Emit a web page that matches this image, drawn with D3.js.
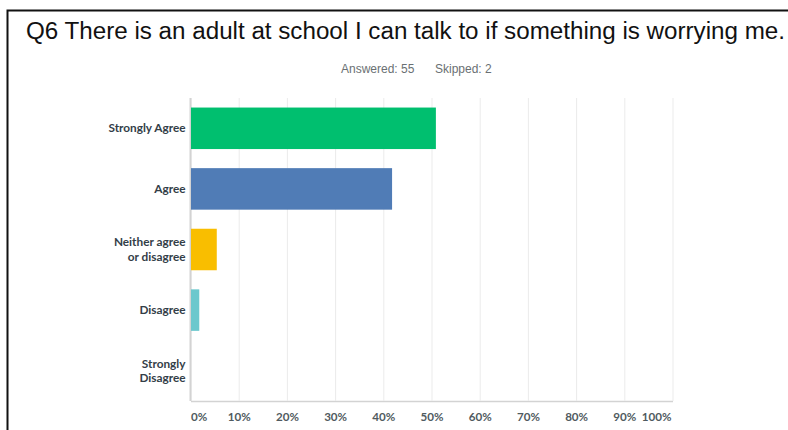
<!DOCTYPE html>
<html>
<head>
<meta charset="utf-8">
<script src="https://cdn.jsdelivr.net/npm/d3@7"></script>
<style>
  html, body { margin: 0; padding: 0; background: #fff; }
  svg { display: block; }
</style>
</head>
<body>
<svg id="chart" width="788" height="430"></svg>
<script>
// Survey question and response summary
const title = "Q6 There is an adult at school I can talk to if something is worrying me.";
const answered = 55;
const skipped = 2;

// Response options and share of respondents (%)
const categories = ["Strongly Agree", "Agree", "Neither agree\nor disagree", "Disagree", "Strongly\nDisagree"];
const percents = [50.91, 41.82, 5.45, 1.82, 0];
const barColors = ["#00bf6f", "#507cb6", "#f9be00", "#6bc8cd", "#a5a5a5"];
const tickValues = [0, 10, 20, 30, 40, 50, 60, 70, 80, 90, 100];
const tickLabels = ["0%", "10%", "20%", "30%", "40%", "50%", "60%", "70%", "80%", "90%", "100%"];

const svg = d3.select("#chart");

// Outer frame (top and left edges)
svg.append("path")
  .attr("d", "M7.5,431 V10.5 H790")
  .attr("fill", "none")
  .attr("stroke", "#111")
  .attr("stroke-width", 2);

svg.append("text")
  .attr("x", 26)
  .attr("y", 38.5)
  .attr("font-family", "Liberation Sans, Arial, sans-serif")
  .attr("font-size", 23.5)
  .attr("fill", "#111")
  .attr("textLength", 759)
  .attr("lengthAdjust", "spacingAndGlyphs")
  .text(title);

const sub = svg.append("g")
  .attr("font-family", "Liberation Sans, Arial, sans-serif")
  .attr("font-size", 12)
  .attr("fill", "#6a7073");
sub.append("text").attr("x", 341).attr("y", 73).text(`Answered: ${answered}`);
sub.append("text").attr("x", 435).attr("y", 73).text(`Skipped: ${skipped}`);

const plot = { left: 190.5, right: 672.5, top: 98, bottom: 401 };

const x = d3.scaleLinear().domain([0, 100]).range([plot.left, plot.right]);
const y = d3.scaleBand()
  .domain(categories)
  .range([plot.top, plot.bottom])
  .paddingInner(0.315)
  .paddingOuter(0.1575);

// Vertical gridlines and percentage labels
const xAxis = svg.append("g")
  .attr("transform", `translate(0,${plot.bottom})`)
  .call(d3.axisBottom(x)
    .tickValues(tickValues)
    .tickFormat((d, i) => tickLabels[i])
    .tickSizeInner(-(plot.bottom - plot.top))
    .tickSizeOuter(0)
    .tickPadding(12));

xAxis.select(".domain").attr("stroke", "#d3d3d3").attr("stroke-width", 1.5);
xAxis.selectAll(".tick line").attr("stroke", "#ebebeb").attr("stroke-width", 1);
xAxis.selectAll(".tick text")
  .attr("font-family", "Lato, sans-serif")
  .attr("font-weight", 700)
  .attr("font-size", 11.6)
  .attr("fill", "#505a60")
  .attr("text-anchor", (d, i) => i === 0 ? "start" : (i === tickValues.length - 1 ? "end" : "middle"))
  .attr("dx", (d, i) => i === 0 ? 0 : (i === tickValues.length - 1 ? -1.5 : 0));

// Left baseline
svg.append("line")
  .attr("x1", plot.left).attr("x2", plot.left)
  .attr("y1", plot.top).attr("y2", plot.bottom)
  .attr("stroke", "#d3d3d3")
  .attr("stroke-width", 2);

// Bars
svg.append("g")
  .selectAll("rect")
  .data(categories.map((c, i) => ({ c, v: percents[i], color: barColors[i] })))
  .join("rect")
  .attr("x", x(0) + 0.5)
  .attr("y", d => y(d.c))
  .attr("width", d => Math.max(0, x(d.v) - x(0) - 0.5))
  .attr("height", y.bandwidth())
  .attr("fill", d => d.color);

// Category labels, right-aligned, split on line breaks
const labels = svg.append("g")
  .attr("font-family", "Lato, sans-serif")
  .attr("font-weight", 700)
  .attr("font-size", 11.8)
  .attr("fill", "#333e48")
  .attr("text-anchor", "end");

categories.forEach(c => {
  const lines = c.split("\n");
  const cy = y(c) + y.bandwidth() / 2;
  const lh = 14.5;
  const t = labels.append("text")
    .attr("x", 185.5)
    .attr("y", cy - (lines.length - 1) * lh / 2);
  lines.forEach((ln, k) => {
    t.append("tspan")
      .attr("x", 185.5)
      .attr("dy", k === 0 ? "0.35em" : lh)
      .text(ln);
  });
});
</script>
</body>
</html>
